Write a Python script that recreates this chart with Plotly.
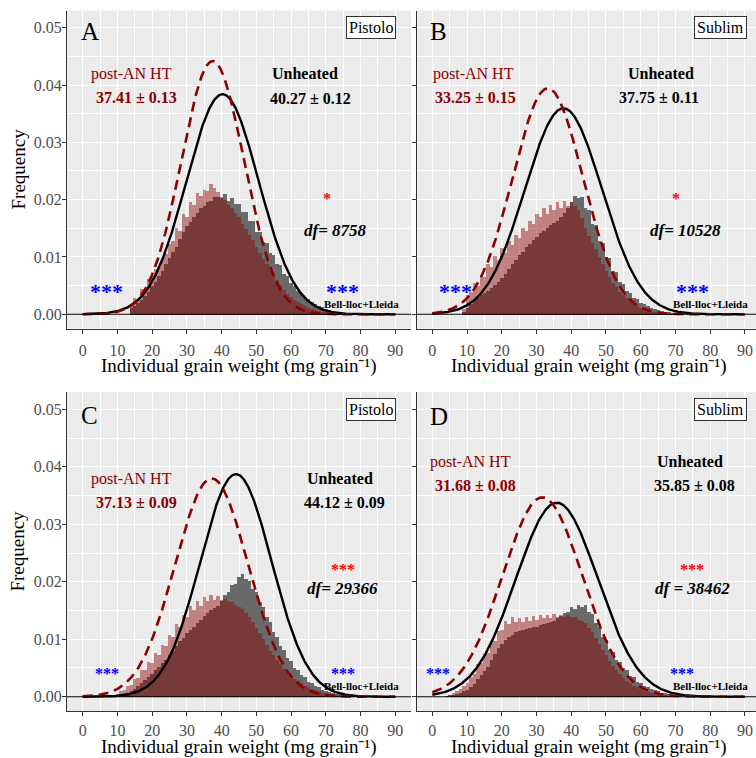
import numpy as np
import plotly.graph_objects as go

# ---------------------------------------------------------------------------
# Grain-weight frequency data (1 mg bins), post-anthesis heat vs unheated
# ---------------------------------------------------------------------------
start_A = 14
heat_A = [0.0018, 0.0029, 0.0027, 0.0045, 0.0044, 0.0062, 0.0063, 0.0079, 0.0084, 0.0098,
          0.0106, 0.0124, 0.0128, 0.0151, 0.0146, 0.0176, 0.0170, 0.0196, 0.0191, 0.0212,
          0.0208, 0.0218, 0.0216, 0.0228, 0.0221, 0.0214, 0.0206, 0.0201, 0.0192, 0.0186,
          0.0177, 0.0170, 0.0158, 0.0150, 0.0139, 0.0130, 0.0118, 0.0108, 0.0098, 0.0088,
          0.0078, 0.0068, 0.0060, 0.0052, 0.0044, 0.0037, 0.0031, 0.0026, 0.0022, 0.0018,
          0.0015, 0.0012, 0.0010, 0.0008, 0.0007, 0.0005, 0.0004, 0.0003, 0.0003, 0.0002,
          0.0002, 0.0001, 0.0001, 0.0, 0.0]
unheat_A = [0.0012, 0.0016, 0.0021, 0.0025, 0.0033, 0.0039, 0.0051, 0.0057, 0.0067, 0.0077,
            0.0089, 0.0099, 0.0109, 0.0119, 0.0133, 0.0144, 0.0155, 0.0161, 0.0171, 0.0177,
            0.0187, 0.0190, 0.0197, 0.0199, 0.0205, 0.0206, 0.0204, 0.0211, 0.0199, 0.0204,
            0.0193, 0.0194, 0.0179, 0.0180, 0.0163, 0.0163, 0.0145, 0.0145, 0.0127, 0.0125,
            0.0107, 0.0105, 0.0089, 0.0086, 0.0071, 0.0067, 0.0055, 0.0051, 0.0042, 0.0038,
            0.0031, 0.0027, 0.0022, 0.0019, 0.0015, 0.0013, 0.0010, 0.0008, 0.0007, 0.0005,
            0.0004, 0.0003, 0.0002, 0.0002, 0.0001]

start_B = 9
heat_B = [0.0010, 0.0034, 0.0040, 0.0056, 0.0050, 0.0070, 0.0066, 0.0088, 0.0084, 0.0102,
          0.0096, 0.0116, 0.0108, 0.0128, 0.0122, 0.0140, 0.0134, 0.0152, 0.0146, 0.0164,
          0.0158, 0.0176, 0.0170, 0.0186, 0.0176, 0.0192, 0.0182, 0.0196, 0.0186, 0.0198,
          0.0190, 0.0196, 0.0190, 0.0182, 0.0168, 0.0152, 0.0138, 0.0126, 0.0114, 0.0100,
          0.0088, 0.0076, 0.0066, 0.0056, 0.0048, 0.0040, 0.0034, 0.0029, 0.0024, 0.0019,
          0.0015, 0.0011, 0.0009, 0.0007, 0.0005, 0.0004, 0.0003, 0.0002, 0.0002, 0.0001,
          0.0001, 0.0, 0.0, 0.0]
unheat_B = [0.0005, 0.0012, 0.0018, 0.0026, 0.0031, 0.0034, 0.0038, 0.0042, 0.0046, 0.0052,
            0.0058, 0.0064, 0.0072, 0.0080, 0.0088, 0.0096, 0.0104, 0.0110, 0.0118, 0.0124,
            0.0130, 0.0136, 0.0142, 0.0147, 0.0152, 0.0156, 0.0160, 0.0164, 0.0170, 0.0178,
            0.0186, 0.0196, 0.0208, 0.0204, 0.0206, 0.0186, 0.0182, 0.0158, 0.0156, 0.0128,
            0.0126, 0.0100, 0.0099, 0.0077, 0.0074, 0.0057, 0.0054, 0.0042, 0.0038, 0.0030,
            0.0027, 0.0021, 0.0018, 0.0015, 0.0012, 0.0010, 0.0008, 0.0006, 0.0005, 0.0004,
            0.0003, 0.0002, 0.0002, 0.0001]

start_C = 8
heat_C = [0.0002, 0.0003, 0.0005, 0.0009, 0.0011, 0.0018, 0.0020, 0.0031, 0.0032, 0.0046,
          0.0046, 0.0061, 0.0059, 0.0076, 0.0073, 0.0090, 0.0088, 0.0108, 0.0104, 0.0126,
          0.0122, 0.0142, 0.0138, 0.0158, 0.0150, 0.0166, 0.0158, 0.0174, 0.0166, 0.0176,
          0.0168, 0.0175, 0.0168, 0.0170, 0.0166, 0.0164, 0.0160, 0.0156, 0.0152, 0.0146,
          0.0138, 0.0130, 0.0120, 0.0110, 0.0100, 0.0090, 0.0080, 0.0072, 0.0064, 0.0056,
          0.0048, 0.0042, 0.0036, 0.0031, 0.0027, 0.0023, 0.0019, 0.0016, 0.0013, 0.0011,
          0.0009, 0.0007, 0.0006, 0.0005, 0.0004, 0.0003, 0.0002, 0.0002, 0.0001, 0.0001,
          0.0, 0.0, 0.0]
unheat_C = [0.0001, 0.0001, 0.0002, 0.0003, 0.0005, 0.0007, 0.0010, 0.0014, 0.0018, 0.0024,
            0.0029, 0.0035, 0.0040, 0.0046, 0.0052, 0.0058, 0.0064, 0.0072, 0.0080, 0.0088,
            0.0096, 0.0102, 0.0110, 0.0116, 0.0122, 0.0128, 0.0134, 0.0140, 0.0146, 0.0150,
            0.0154, 0.0158, 0.0166, 0.0176, 0.0182, 0.0194, 0.0196, 0.0208, 0.0214, 0.0204,
            0.0202, 0.0188, 0.0182, 0.0164, 0.0156, 0.0138, 0.0130, 0.0112, 0.0104, 0.0088,
            0.0082, 0.0068, 0.0062, 0.0050, 0.0047, 0.0037, 0.0034, 0.0026, 0.0024, 0.0018,
            0.0016, 0.0012, 0.0010, 0.0008, 0.0006, 0.0005, 0.0004, 0.0003, 0.0002, 0.0002,
            0.0001, 0.0001, 0.0]

start_D = 4
heat_D = [0.0001, 0.0003, 0.0006, 0.0009, 0.0013, 0.0019, 0.0023, 0.0034, 0.0040, 0.0056,
          0.0058, 0.0074, 0.0076, 0.0094, 0.0096, 0.0114, 0.0116, 0.0132, 0.0126, 0.0138,
          0.0130, 0.0136, 0.0130, 0.0138, 0.0132, 0.0140, 0.0134, 0.0142, 0.0136, 0.0142,
          0.0136, 0.0144, 0.0138, 0.0142, 0.0138, 0.0142, 0.0138, 0.0138, 0.0134, 0.0132,
          0.0128, 0.0120, 0.0112, 0.0102, 0.0092, 0.0082, 0.0072, 0.0062, 0.0054, 0.0046,
          0.0039, 0.0033, 0.0028, 0.0023, 0.0019, 0.0016, 0.0013, 0.0010, 0.0008, 0.0007,
          0.0005, 0.0004, 0.0003, 0.0002, 0.0002, 0.0001, 0.0001, 0.0, 0.0]
unheat_D = [0.0001, 0.0002, 0.0003, 0.0005, 0.0007, 0.0010, 0.0012, 0.0016, 0.0022, 0.0030,
            0.0038, 0.0044, 0.0052, 0.0064, 0.0074, 0.0084, 0.0092, 0.0099, 0.0104, 0.0108,
            0.0112, 0.0114, 0.0116, 0.0118, 0.0120, 0.0121, 0.0122, 0.0124, 0.0126, 0.0128,
            0.0130, 0.0132, 0.0136, 0.0140, 0.0146, 0.0148, 0.0156, 0.0152, 0.0160, 0.0156,
            0.0160, 0.0148, 0.0144, 0.0128, 0.0122, 0.0104, 0.0098, 0.0082, 0.0077, 0.0063,
            0.0060, 0.0049, 0.0046, 0.0036, 0.0034, 0.0026, 0.0024, 0.0018, 0.0017, 0.0013,
            0.0011, 0.0009, 0.0007, 0.0006, 0.0004, 0.0003, 0.0002, 0.0002, 0.0001]

# Means (± SE) per panel and fitted normal-curve SDs
panel_letters = ["A", "B", "C", "D"]
cultivars = ["Pistolo", "Sublim", "Pistolo", "Sublim"]
mean_heat = [37.41, 33.25, 37.13, 31.68]
se_heat = [0.13, 0.15, 0.09, 0.08]
mean_unheat = [40.27, 37.75, 44.12, 35.85]
se_unheat = [0.12, 0.11, 0.09, 0.08]
sd_heat = [9.03, 10.12, 10.5, 11.5]
sd_unheat = [10.39, 11.1, 10.3, 11.82]
df_labels = ["df= 8758", "df= 10528", "df= 29366", "df = 38462"]
treat_signif = ["*", "*", "***", "***"]
site_signif = ["***", "***", "***", "***"]
site_label = "Bell-lloc+Lleida"

starts = [start_A, start_B, start_C, start_D]
heat = [heat_A, heat_B, heat_C, heat_D]
unheat = [unheat_A, unheat_B, unheat_C, unheat_D]

# ---------------------------------------------------------------------------
# Layout geometry (pixels in a 756 x 758 canvas)
# ---------------------------------------------------------------------------
W, H = 756, 758
col_dom = [[67 / W, 411 / W], [416.7 / W, 1.0]]
row_dom = [[1 - 328.6 / H, 1 - 10.5 / H], [1 - 711.1 / H, 1 - 392.1 / H]]
x_ranges = [[-4.5, 94.5], [-4.5, 93.2]]
y_range = [-0.0025, 0.053]

SERIF = "Liberation Serif"
DARKRED = "#8B0000"

# Text positions inside each panel (data units)
pos = {
    "letter": [(2.1, 0.0493), (1.7, 0.0493), (1.9, 0.0490), (2.0, 0.0488)],
    "box": [(83.0, 0.0500), (83.0, 0.0500), (83.0, 0.0499), (83.0, 0.0499)],
    "post": [(14.1, 0.0419), (11.8, 0.0420), (14.1, 0.0379), (11.1, 0.0409)],
    "mh": [(15.5, 0.0378), (12.4, 0.0378), (15.5, 0.0338), (12.4, 0.0368)],
    "unh": [(64.0, 0.0420), (65.8, 0.0420), (74.2, 0.0380), (74.2, 0.0409)],
    "mu": [(65.5, 0.0377), (65.3, 0.0378), (75.5, 0.0338), (75.6, 0.0368)],
    "tsig": [(70.2, 0.0203), (70.1, 0.0203), (75.0, 0.0223), (74.9, 0.0223)],
    "df": [(72.8, 0.0147), (72.9, 0.0147), (74.8, 0.0189), (74.9, 0.0189)],
    "sL": [(6.8, 0.0042), (6.7, 0.0042), (7.0, 0.0042), (1.65, 0.0042)],
    "sR": [(74.9, 0.0042), (74.9, 0.0042), (75.0, 0.0042), (72.0, 0.0042)],
    "site": [(80.2, 0.0018), (80.1, 0.0018), (80.2, 0.00186), (80.1, 0.00186)],
}
star_big = [22, 22, 16, 16]
star_shift = [-1, -1, -1, -1]
tsig_size = [16, 16, 16, 16]

fig = go.Figure()
annotations = []
shapes = []

x_curve = np.linspace(0, 90, 600)


def dnorm(x, m, s):
    return np.exp(-0.5 * ((x - m) / s) ** 2) / (s * np.sqrt(2 * np.pi))


for i in range(4):
    r, c = divmod(i, 2)
    sfx = "" if i == 0 else str(i + 1)
    xa, ya = "x" + sfx, "y" + sfx

    xb_h = starts[i] + np.arange(len(heat[i]))
    xb_u = starts[i] + np.arange(len(unheat[i]))

    fig.add_trace(go.Bar(x=xb_u, y=unheat[i], width=1.0, xaxis=xa, yaxis=ya,
                         marker=dict(color="rgb(105,105,105)", line=dict(width=0)),
                         showlegend=False))
    fig.add_trace(go.Bar(x=xb_h, y=heat[i], width=1.0, xaxis=xa, yaxis=ya,
                         marker=dict(color="rgba(139,0,0,0.45)", line=dict(width=0)),
                         showlegend=False))

    # zero reference line across the panel
    shapes.append(dict(type="line", xref=xa + " domain", yref=ya, x0=0, x1=1, y0=0, y1=0,
                       line=dict(color="black", width=1.1), layer="above"))

    fig.add_trace(go.Scatter(x=x_curve, y=dnorm(x_curve, mean_unheat[i], sd_unheat[i]),
                             mode="lines", line=dict(color="black", width=2.4),
                             xaxis=xa, yaxis=ya, showlegend=False))
    fig.add_trace(go.Scatter(x=x_curve, y=dnorm(x_curve, mean_heat[i], sd_heat[i]),
                             mode="lines", line=dict(color=DARKRED, width=2.6, dash="10px,6px"),
                             xaxis=xa, yaxis=ya, showlegend=False))

    axis_common = dict(showline=True, linecolor="#333333", linewidth=1.1,
                       ticks="outside", ticklen=4, tickwidth=1, tickcolor="#333333",
                       tickfont=dict(family=SERIF, size=16, color="#4D4D4D"),
                       showgrid=True, gridcolor="white", gridwidth=1.1, zeroline=False)
    fig.update_layout(**{
        ("xaxis" + sfx): dict(domain=col_dom[c], range=x_ranges[c], anchor=ya,
                              tickvals=list(range(0, 91, 10)),
                              ticklabelstandoff=(3 if r == 0 else 1),
                              minor=dict(tickvals=list(range(5, 91, 10)), showgrid=True,
                                         gridcolor="white", gridwidth=0.5, ticks=""),
                              **axis_common),
        ("yaxis" + sfx): dict(domain=row_dom[r], range=y_range, anchor=xa,
                              tickvals=[0, 0.01, 0.02, 0.03, 0.04, 0.05], tickformat=".2f",
                              showticklabels=(c == 0), ticklabelstandoff=-3,
                              minor=dict(tickvals=[0.005, 0.015, 0.025, 0.035, 0.045],
                                         showgrid=True, gridcolor="white", gridwidth=0.5,
                                         ticks=""),
                              **axis_common),
    })

    def ann(key, text, size, color="black", **kw):
        px_, py_ = pos[key][i]
        d = dict(x=px_, y=py_, xref=xa, yref=ya, text=text, showarrow=False,
                 font=dict(family=SERIF, size=size, color=color),
                 xanchor="center", yanchor="middle")
        d.update(kw)
        annotations.append(d)

    ann("letter", panel_letters[i], 25)
    ann("box", cultivars[i], 16, bordercolor="#333333", borderwidth=1, borderpad=2,
        bgcolor="white")
    ann("post", "post-AN HT", 16, DARKRED)
    ann("mh", "<b>%.2f ± %.2f</b>" % (mean_heat[i], se_heat[i]), 16, DARKRED)
    ann("unh", "<b>Unheated</b>", 16)
    ann("mu", "<b>%.2f ± %.2f</b>" % (mean_unheat[i], se_unheat[i]), 16)
    ann("tsig", "<b>%s</b>" % treat_signif[i], tsig_size[i], "#FF0000", yshift=-1)
    ann("df", "<b><i>%s</i></b>" % df_labels[i], 17)
    ann("sL", "<b>%s</b>" % site_signif[i], star_big[i], "#0000FF", yshift=star_shift[i])
    ann("sR", "<b>%s</b>" % site_signif[i], star_big[i], "#0000FF", yshift=star_shift[i])
    ann("site", "<b>%s</b>" % site_label, 11)

# Axis titles
xtitle = "Individual grain weight (mg grain⁻¹)"
for cx in [239 / W, 588.6 / W]:
    for cy in [1 - 366 / H, 1 - 746.5 / H]:
        annotations.append(dict(x=cx, y=cy, xref="paper", yref="paper", text=xtitle,
                                showarrow=False, font=dict(family=SERIF, size=19, color="black"),
                                xanchor="center", yanchor="middle"))
for cy in [1 - 169.5 / H, 1 - 551.6 / H]:
    annotations.append(dict(x=18 / W, y=cy, xref="paper", yref="paper", text="Frequency",
                            textangle=-90, showarrow=False,
                            font=dict(family=SERIF, size=19, color="black"),
                            xanchor="center", yanchor="middle"))

fig.update_layout(width=W, height=H, margin=dict(l=0, r=0, t=0, b=0),
                  paper_bgcolor="white", plot_bgcolor="#EBEBEB",
                  barmode="overlay", bargap=0, showlegend=False,
                  annotations=annotations, shapes=shapes)

fig.write_html("out.html")
